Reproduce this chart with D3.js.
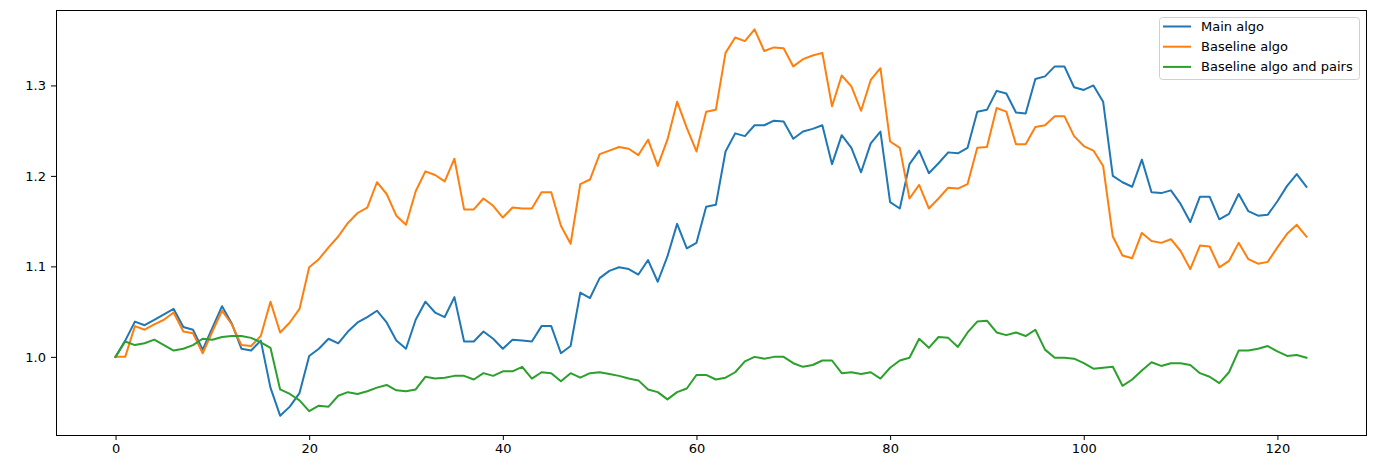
<!DOCTYPE html>
<html><head><meta charset="utf-8">
<script src="https://cdn.jsdelivr.net/npm/d3@7"></script>
<style>body{margin:0;background:#fff}svg{display:block}text{font-family:"DejaVu Sans",sans-serif}</style>
</head><body><svg id="c" width="1400" height="470"></svg>
<script>
const seriesNames = ["Main algo", "Baseline algo", "Baseline algo and pairs"];
const seriesColors = ["#1f77b4", "#ff7f0e", "#2ca02c"];
const mainAlgo = [1.000,1.018,1.039,1.035,1.041,1.047,1.053,1.033,1.030,1.008,1.032,1.056,1.037,1.009,1.007,1.018,0.966,0.935,0.945,0.960,
1.001,1.009,1.020,1.015,1.028,1.038,1.044,1.051,1.038,1.018,1.009,1.041,1.061,1.049,1.044,1.066,1.017,1.017,1.028,1.020,
1.009,1.019,1.018,1.017,1.034,1.034,1.004,1.012,1.071,1.065,1.087,1.095,1.099,1.097,1.091,1.107,1.083,1.111,1.147,1.120,
1.126,1.166,1.168,1.227,1.247,1.244,1.256,1.256,1.261,1.260,1.241,1.249,1.252,1.256,1.213,1.245,1.231,1.204,1.236,1.249,
1.171,1.164,1.213,1.228,1.203,1.214,1.226,1.225,1.231,1.271,1.273,1.294,1.291,1.270,1.269,1.307,1.310,1.321,1.321,1.298,
1.295,1.300,1.282,1.200,1.193,1.188,1.218,1.182,1.181,1.184,1.169,1.149,1.177,1.177,1.152,1.158,1.180,1.161,1.156,1.157,
1.172,1.189,1.202,1.188];
const baselineAlgo = [1.000,1.000,1.034,1.030,1.036,1.041,1.049,1.028,1.026,1.004,1.028,1.051,1.036,1.013,1.012,1.023,1.061,1.027,1.038,1.053,
1.099,1.108,1.121,1.133,1.148,1.159,1.165,1.193,1.180,1.156,1.146,1.183,1.205,1.201,1.194,1.219,1.163,1.163,1.175,1.167,
1.154,1.165,1.164,1.164,1.182,1.182,1.145,1.125,1.191,1.196,1.224,1.228,1.232,1.230,1.223,1.240,1.211,1.240,1.282,1.253,
1.227,1.271,1.273,1.336,1.353,1.349,1.362,1.338,1.342,1.341,1.321,1.329,1.333,1.336,1.277,1.311,1.299,1.272,1.306,1.319,
1.238,1.231,1.175,1.190,1.164,1.175,1.187,1.186,1.191,1.231,1.232,1.275,1.271,1.235,1.235,1.254,1.256,1.266,1.266,1.244,
1.233,1.228,1.211,1.133,1.112,1.109,1.137,1.128,1.126,1.130,1.117,1.097,1.123,1.122,1.099,1.106,1.126,1.108,1.103,1.105,
1.121,1.136,1.146,1.133];
const baselinePairs = [1.000,1.017,1.013,1.015,1.019,1.013,1.007,1.009,1.013,1.020,1.019,1.022,1.023,1.023,1.021,1.016,1.010,0.964,0.959,0.952,
0.940,0.946,0.945,0.957,0.961,0.959,0.962,0.966,0.969,0.963,0.962,0.964,0.978,0.976,0.977,0.979,0.979,0.975,0.982,0.979,
0.984,0.984,0.989,0.976,0.983,0.982,0.973,0.982,0.977,0.982,0.983,0.981,0.979,0.976,0.974,0.964,0.961,0.953,0.961,0.965,
0.980,0.980,0.975,0.977,0.983,0.995,1.000,0.998,1.000,1.000,0.993,0.989,0.991,0.996,0.996,0.982,0.983,0.981,0.983,0.976,
0.988,0.996,0.999,1.020,1.010,1.022,1.021,1.011,1.027,1.039,1.040,1.027,1.024,1.027,1.023,1.030,1.008,0.999,0.999,0.998,
0.993,0.987,0.988,0.989,0.968,0.975,0.985,0.994,0.990,0.993,0.993,0.991,0.982,0.978,0.971,0.983,1.007,1.007,1.009,1.012,
1.006,1.001,1.002,0.999];
const xTicks = [0, 20, 40, 60, 80, 100, 120];
const yTicks = [1.0, 1.1, 1.2, 1.3];

const allSeries = [mainAlgo, baselineAlgo, baselinePairs];
const svg = d3.select("#c");
const L = 56, R = 1366, T = 10, B = 435;
const n = mainAlgo.length - 1;
const x = d3.scaleLinear().domain([-0.05 * n, 1.05 * n]).range([L, R]);
const allVals = allSeries.flat();
const mn = d3.min(allVals), mx = d3.max(allVals), pad = (mx - mn) * 0.05;
const y = d3.scaleLinear().domain([mn - pad, mx + pad]).range([B, T]);

const line = d3.line().x((d, i) => x(i)).y(d => y(d));
const g = svg.append("g");
allSeries.forEach((s, k) => {
  g.append("path").datum(s).attr("d", line).attr("fill", "none")
    .attr("stroke", seriesColors[k]).attr("stroke-width", 2).attr("stroke-linejoin", "round").attr("stroke-linecap", "square");
});

const xa = svg.append("g").attr("transform", `translate(0,${B})`)
  .call(d3.axisBottom(x).tickValues(xTicks).tickFormat(d3.format("d")).tickSize(5).tickPadding(4));
const ya = svg.append("g").attr("transform", `translate(${L},0)`)
  .call(d3.axisLeft(y).tickValues(yTicks).tickFormat(d3.format(".1f")).tickSize(5).tickPadding(5));
[xa, ya].forEach(a => {
  a.select(".domain").remove();
  a.selectAll("line").attr("stroke", "#000").attr("stroke-width", 1);
  a.selectAll("text").attr("font-size", 13).attr("fill", "#000").attr("font-family", "DejaVu Sans");
});
svg.append("rect").attr("x", L).attr("y", T).attr("width", R - L).attr("height", B - T)
  .attr("fill", "none").attr("stroke", "#000").attr("stroke-width", 1).attr("shape-rendering", "crispEdges");

const lg = svg.append("g").attr("transform", "translate(1159,17)");
lg.append("rect").attr("x", 0.5).attr("y", 0.5).attr("width", 200).attr("height", 62).attr("rx", 3)
  .attr("fill", "#fff").attr("fill-opacity", 0.8).attr("stroke", "#d0d0d0");
seriesNames.forEach((nm, k) => {
  const yy = 9.5 + k * 20.2;
  lg.append("line").attr("x1", 4).attr("x2", 32).attr("y1", yy).attr("y2", yy)
    .attr("stroke", seriesColors[k]).attr("stroke-width", 2);
  lg.append("text").attr("x", 42).attr("y", yy).attr("dy", "0.35em").attr("font-size", 13).attr("fill", "#000").text(nm);
});
</script></body></html>
